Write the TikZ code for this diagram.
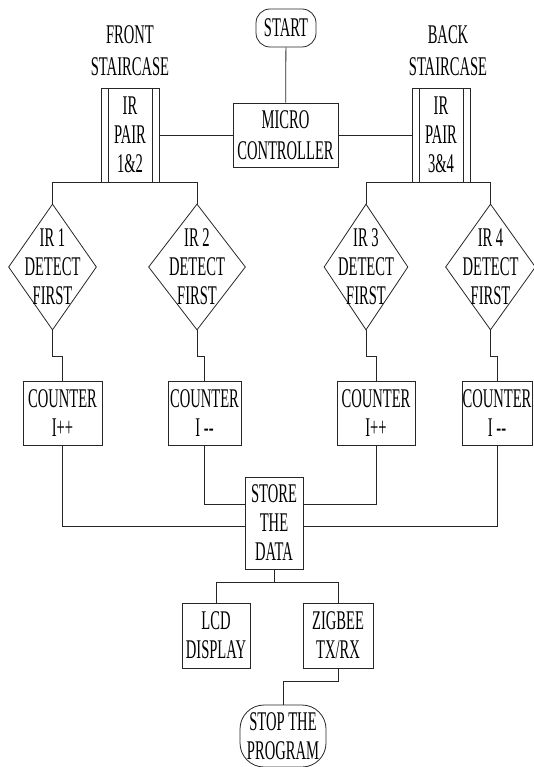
\documentclass[tikz,border=0pt]{standalone}
\usepackage{fontspec}
\setmainfont{Liberation Serif}[FakeStretch=0.54]
\usepackage{tikz}
\usetikzlibrary{positioning,calc}
\usetikzlibrary{shapes.geometric}
\tikzset{  blk/.style={draw,rectangle,align=center,inner sep=0pt,minimum height=64pt} }
\tikzset{  term/.style={blk,rounded corners=14pt} }
\tikzset{  irpair/.style={blk,minimum width=58pt,minimum height=94pt,path picture={
    \draw ([xshift=7pt]path picture bounding box.north west) -- ([xshift=7pt]path picture bounding box.south west);
    \draw ([xshift=-7pt]path picture bounding box.north east) -- ([xshift=-7pt]path picture bounding box.south east);}} }
\tikzset{  detect/.style={draw,diamond,align=center,aspect=0.7,inner xsep=-12pt,inner ysep=-6pt,minimum width=88pt,minimum height=126pt} }
\newcommand{\dash}{-{}-}

\begin{document}
\begin{tikzpicture}[x=1pt,y=-1pt,line width=0.8pt,draw=black!85,
    every node/.style={font=\fontsize{27}{29}\selectfont}]
   \useasboundingbox (0,0) rectangle (534,767);
   \node[term,minimum width=60pt,minimum height=38pt] (start) at (286,28) {START};
   \node[blk,minimum width=105pt,font=\fontsize{27}{31}\selectfont] (micro) at (285.5,135) {MICRO\\CONTROLLER};
   \node[irpair] (pair12) at (130,135) {IR\\PAIR\\1\&2};
   \node[irpair] (pair34) at (441,135) {IR\\PAIR\\3\&4};
   \node[align=center,inner sep=0pt,font=\fontsize{27}{32}\selectfont] (front) at (130,51) {FRONT\\STAIRCASE};
   \node[align=center,inner sep=0pt,font=\fontsize{27}{32}\selectfont] (back) at (448,51) {BACK\\STAIRCASE};
   \node[detect] (d1) at (52.5,267) {IR 1\\DETECT\\FIRST};
   \node[detect,minimum width=97pt] (d2) at (197,267) {IR 2\\DETECT\\FIRST};
   \node[detect,minimum width=84pt] (d3) at (366,267) {IR 3\\DETECT\\FIRST};
   \node[detect,minimum width=90pt] (d4) at (490.5,267) {IR 4\\DETECT\\FIRST};
   \node[blk,minimum width=79pt] (c1) at (62.5,413) {COUNTER\\I++};
   \node[blk,minimum width=73pt] (c2) at (204.5,413) {COUNTER\\I \dash};
   \node[blk,minimum width=78pt] (c3) at (376,413) {COUNTER\\I++};
   \node[blk,minimum width=70pt] (c4) at (497,413) {COUNTER\\I \dash};
   \node[blk,minimum width=58pt,minimum height=92pt] (store) at (274,523) {STORE\\THE\\DATA};
   \node[blk,minimum width=68pt,minimum height=65pt] (lcd) at (216,635.5) {LCD\\DISPLAY};
   \node[blk,minimum width=70pt,minimum height=65pt] (zig) at (338,635.5) {ZIGBEE\\TX/RX};
   \node[term,rounded corners=24pt,minimum width=86pt,minimum height=62pt] (stop) at (283,736) {STOP THE\\PROGRAM};
   \draw (start) -- (micro);
   \draw (pair12) -- (micro);
   \draw (micro) -- (pair34);
   \draw (d1.north) |- (pair12.south) -| (d2.north);
   \draw (d3.north) |- (pair34.south) -| (d4.north);
   \draw (d1.south) -- ++(0,26) -| (c1.north);
   \draw (d2.south) -- ++(0,26) -| (c2.north);
   \draw (d3.south) -- ++(0,26) -| (c3.north);
   \draw (d4.south) -- ++(0,26) -| (c4.north);
   \draw (c1.south) |- ([yshift=-3pt]store.west);
   \draw (c2.south) |- ([yshift=19pt]store.west);
   \draw (c3.south) |- ([yshift=19pt]store.east);
   \draw (c4.south) |- ([yshift=-3pt]store.east);
   \draw (store.south) -- ++(0,13) coordinate (split);
   \draw (lcd.north) |- (split) -| (zig.north);
   \draw (zig.south) -- ++(0,13) -| (stop.north);
  \end{tikzpicture}
\end{document}
